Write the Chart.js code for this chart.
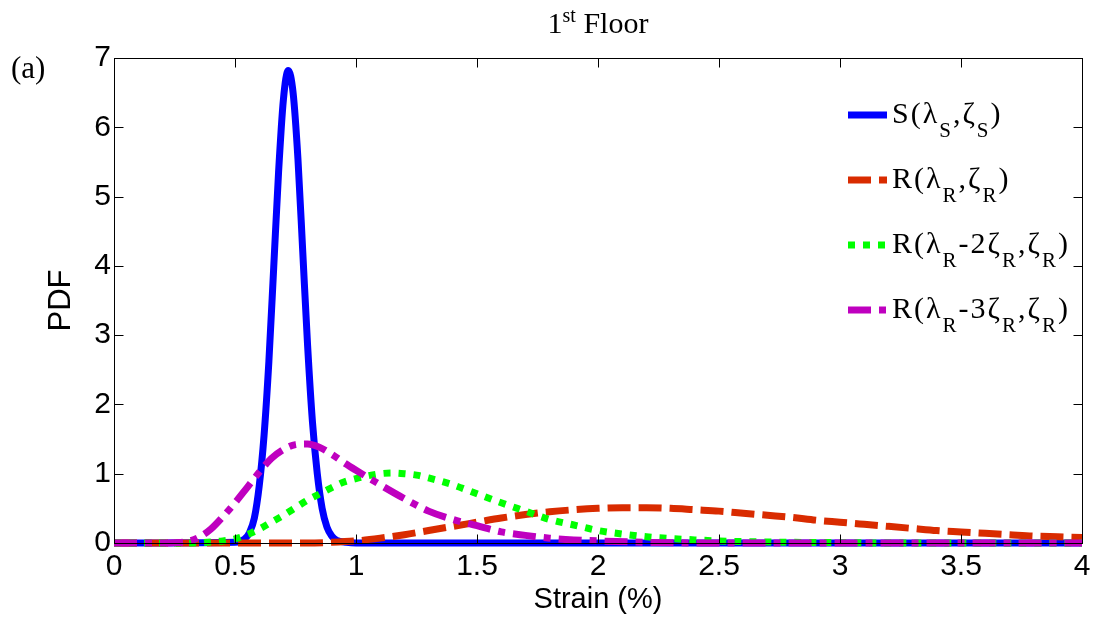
<!DOCTYPE html>
<html>
<head>
<meta charset="utf-8">
<script src="https://cdn.jsdelivr.net/npm/chart.js@4.4.1/dist/chart.umd.min.js"></script>
<style>
html, body { margin: 0; padding: 0; background: #fff; }
#wrap { width: 1103px; height: 621px; }
</style>
</head>
<body>
<div id="wrap"><canvas id="pdfChart" width="1103" height="621"></canvas></div>
<script>
// Values (strain in %, PDF)
const sX = [0, 0.5, 0.54, 0.56, 0.58, 0.60, 0.62, 0.64, 0.66, 0.68, 0.70, 0.72, 0.74, 0.76, 0.78, 0.80, 0.82, 0.84, 0.86, 0.88, 0.90, 0.92, 0.96, 1.0, 4.0];
const sY = [0, 0.01, 0.06, 0.15, 0.36, 0.82, 1.55, 2.62, 3.98, 5.35, 6.40, 6.82, 6.50, 5.55, 4.20, 2.85, 1.75, 1.00, 0.50, 0.23, 0.10, 0.04, 0.01, 0, 0];

const rX = [0, 0.8, 0.9, 1.0, 1.1, 1.2, 1.3, 1.4, 1.5, 1.6, 1.7, 1.8, 1.9, 2.0, 2.1, 2.2, 2.3, 2.4, 2.5, 2.6, 2.7, 2.8, 2.9, 3.0, 3.1, 3.2, 3.3, 3.4, 3.5, 3.6, 3.7, 3.8, 3.9, 4.0];
const rY = [0, 0, 0.01, 0.03, 0.07, 0.12, 0.18, 0.24, 0.30, 0.36, 0.41, 0.45, 0.48, 0.50, 0.51, 0.51, 0.50, 0.48, 0.46, 0.43, 0.40, 0.37, 0.33, 0.30, 0.27, 0.24, 0.21, 0.18, 0.16, 0.14, 0.12, 0.10, 0.09, 0.08];

const gX = [0, 0.3, 0.35, 0.4, 0.45, 0.5, 0.55, 0.6, 0.65, 0.7, 0.75, 0.8, 0.85, 0.9, 0.95, 1.0, 1.05, 1.1, 1.15, 1.2, 1.25, 1.3, 1.4, 1.5, 1.6, 1.7, 1.8, 1.9, 2.0, 2.1, 2.2, 2.3, 2.4, 2.5, 2.6, 2.8, 3.0, 3.2, 4.0];
const gY = [0, 0, 0.005, 0.015, 0.03, 0.06, 0.12, 0.20, 0.30, 0.40, 0.51, 0.62, 0.71, 0.80, 0.88, 0.93, 0.97, 1.00, 1.01, 1.00, 0.98, 0.94, 0.84, 0.71, 0.58, 0.46, 0.34, 0.26, 0.18, 0.13, 0.09, 0.065, 0.045, 0.03, 0.02, 0.01, 0.005, 0, 0];

const mX = [0, 0.2, 0.25, 0.3, 0.35, 0.4, 0.45, 0.5, 0.55, 0.6, 0.65, 0.7, 0.75, 0.8, 0.85, 0.9, 0.95, 1.0, 1.1, 1.2, 1.3, 1.4, 1.5, 1.6, 1.7, 1.8, 1.9, 2.0, 2.2, 2.5, 4.0];
const mY = [0, 0, 0.005, 0.02, 0.08, 0.20, 0.38, 0.58, 0.80, 1.02, 1.22, 1.35, 1.42, 1.43, 1.38, 1.28, 1.16, 1.05, 0.84, 0.64, 0.46, 0.34, 0.25, 0.16, 0.11, 0.07, 0.045, 0.03, 0.01, 0, 0];

const seriesLabels = ["S(λ_{S},ζ_{S})", "R(λ_{R},ζ_{R})", "R(λ_{R}-2ζ_{R},ζ_{R})", "R(λ_{R}-3ζ_{R},ζ_{R})"];
const seriesColors = ["#0000ff", "#d92b00", "#00ff00", "#bf00bf"];
const seriesDash = [[], [23, 8], [7, 8], [23, 8, 7, 8]];

const xTicks = [0, 0.5, 1, 1.5, 2, 2.5, 3, 3.5, 4];
const yTicks = [0, 1, 2, 3, 4, 5, 6, 7];

const titleText = "1^{st} Floor";
const panelTag = "(a)";

const toPoints = (xs, ys) => xs.map((x, i) => ({ x: x, y: ys[i] }));
const allData = [toPoints(sX, sY), toPoints(rX, rY), toPoints(gX, gY), toPoints(mX, mY)];

// text with _{sub} and ^{sup} parts
function drawRich(ctx, str, x, y, size, small, drop, rise) {
    const parts = str.split(/([_^]\{[^}]*\})/).filter(p => p.length);
    parts.forEach(p => {
        let t = p, dy = 0, fs = size;
        if (p.startsWith("_{")) { t = p.slice(2, -1); dy = drop; fs = small; }
        else if (p.startsWith("^{")) { t = p.slice(2, -1); dy = -rise; fs = small; }
        ctx.font = fs + 'px "Liberation Serif", "Times New Roman", serif';
        ctx.fillText(t, x, y + dy);
        x += ctx.measureText(t).width;
    });
    return x;
}

function richWidth(ctx, str, size, small) {
    let w = 0;
    str.split(/([_^]\{[^}]*\})/).filter(p => p.length).forEach(p => {
        const isSmall = p.startsWith("_{") || p.startsWith("^{");
        const t = isSmall ? p.slice(2, -1) : p;
        ctx.font = (isSmall ? small : size) + 'px "Liberation Serif", serif';
        w += ctx.measureText(t).width;
    });
    return w;
}

// Box, inward ticks, title, tag and legend (MATLAB look)
const framePlugin = {
    id: "frame",
    afterDatasetsDraw(chart) {
        const { ctx, chartArea: a, scales } = chart;
        const L = Math.round(a.left) + 0.5, R = Math.round(a.right) + 0.5;
        const T = Math.round(a.top) + 0.5, B = Math.round(a.bottom) + 0.5;
        ctx.save();
        ctx.strokeStyle = "#000";
        ctx.lineWidth = 1;
        ctx.strokeRect(L, T, R - L, B - T);
        ctx.beginPath();
        xTicks.forEach(v => {
            const px = Math.round(scales.x.getPixelForValue(v)) + 0.5;
            ctx.moveTo(px, B); ctx.lineTo(px, B - 9);
            ctx.moveTo(px, T); ctx.lineTo(px, T + 9);
        });
        yTicks.forEach(v => {
            const py = Math.round(scales.y.getPixelForValue(v)) + 0.5;
            ctx.moveTo(L, py); ctx.lineTo(L + 9, py);
            ctx.moveTo(R, py); ctx.lineTo(R - 9, py);
        });
        ctx.stroke();
        ctx.restore();
    },
    afterDraw(chart) {
        const { ctx, chartArea: a } = chart;
        ctx.save();
        ctx.fillStyle = "#000";
        ctx.textBaseline = "alphabetic";
        ctx.textAlign = "left";

        // title
        const tw = richWidth(ctx, titleText, 30, 20);
        drawRich(ctx, titleText, (a.left + a.right) / 2 - tw / 2, 33, 30, 20, 0, 11);

        // panel tag
        ctx.font = '31px "Liberation Serif", serif';
        ctx.fillText(panelTag, 11, 78);

        // legend
        seriesLabels.forEach((lab, i) => {
            const cy = 115 + i * 65;
            ctx.beginPath();
            ctx.strokeStyle = seriesColors[i];
            ctx.lineWidth = 7;
            ctx.lineCap = "butt";
            ctx.setLineDash(seriesDash[i]);
            ctx.moveTo(848, cy);
            ctx.lineTo(887, cy);
            ctx.stroke();
            ctx.setLineDash([]);
            ctx.fillStyle = "#000";
            ctx.letterSpacing = "2px";
            drawRich(ctx, lab, 892, cy + 8, 30, 21, 14, 0);
            ctx.letterSpacing = "0px";
        });
        ctx.restore();
    }
};

new Chart(document.getElementById("pdfChart"), {
    type: "scatter",
    data: {
        datasets: allData.map((pts, i) => ({
            label: seriesLabels[i],
            data: pts,
            showLine: true,
            borderColor: seriesColors[i],
            backgroundColor: seriesColors[i],
            borderWidth: 7,
            borderDash: seriesDash[i],
            borderCapStyle: "butt",
            pointRadius: 0,
            pointHoverRadius: 0,
            cubicInterpolationMode: "monotone",
            clip: false,
            order: 4 - i
        }))
    },
    options: {
        responsive: false,
        animation: false,
        devicePixelRatio: 1,
        layout: { padding: { top: 58, right: 21, left: 0, bottom: 0 } },
        plugins: {
            legend: { display: false },
            tooltip: { enabled: false },
            title: { display: false }
        },
        scales: {
            x: {
                type: "linear",
                min: 0,
                max: 4,
                afterFit: (s) => { s.height = 78; },
                afterBuildTicks: (s) => { s.ticks = xTicks.map(v => ({ value: v })); },
                grid: { display: false, drawTicks: false },
                border: { display: false },
                ticks: {
                    color: "#000",
                    font: { family: "'Liberation Sans', Arial, sans-serif", size: 30 },
                    padding: 6,
                    maxRotation: 0,
                    autoSkip: false,
                    callback: (v) => String(v)
                },
                title: {
                    display: true,
                    text: "Strain (%)",
                    color: "#000",
                    font: { family: "'Liberation Sans', Arial, sans-serif", size: 29 },
                    padding: { top: 0, bottom: 4 }
                }
            },
            y: {
                type: "linear",
                min: 0,
                max: 7,
                afterFit: (s) => { s.width = 114; },
                afterBuildTicks: (s) => { s.ticks = yTicks.map(v => ({ value: v })); },
                grid: { display: false, drawTicks: false },
                border: { display: false },
                ticks: {
                    color: "#000",
                    font: { family: "'Liberation Sans', Arial, sans-serif", size: 30 },
                    padding: 3,
                    callback: (v) => String(v)
                },
                title: {
                    display: true,
                    text: "PDF",
                    color: "#000",
                    font: { family: "'Liberation Sans', Arial, sans-serif", size: 31 },
                    padding: { top: 43, bottom: 0 }
                }
            }
        }
    },
    plugins: [framePlugin]
});
</script>
</body>
</html>
